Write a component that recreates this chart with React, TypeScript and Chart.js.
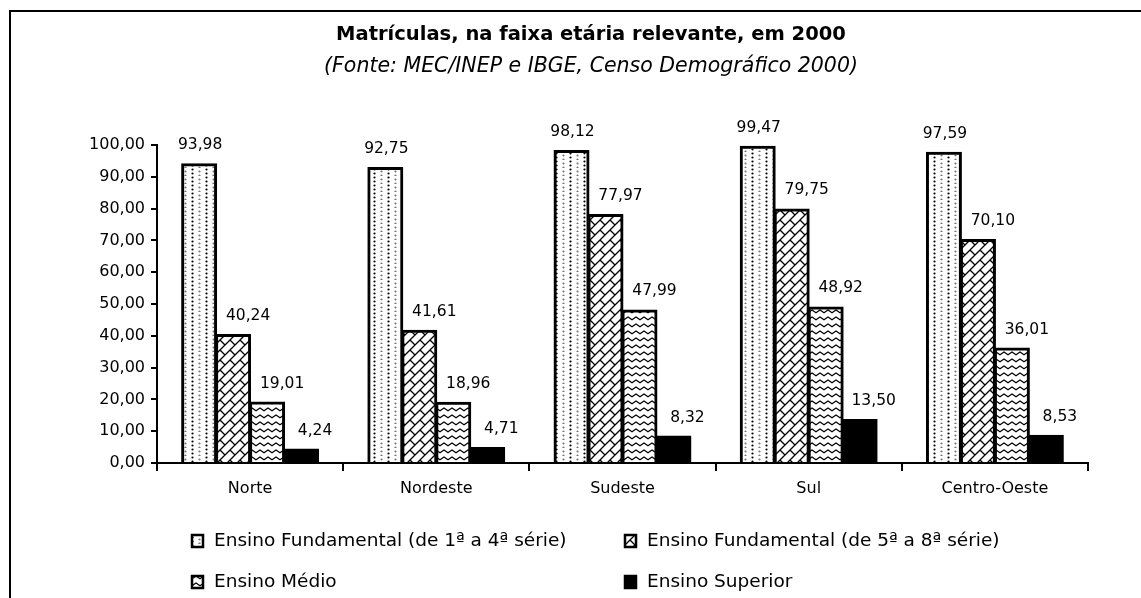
import React, { useEffect, useRef } from 'react';
import { Chart, registerables } from 'chart.js';

Chart.register(...registerables);

const categories = ['Norte', 'Nordeste', 'Sudeste', 'Sul', 'Centro-Oeste'];
const fundamental14 = [93.98, 92.75, 98.12, 99.47, 97.59];
const fundamental58 = [40.24, 41.61, 77.97, 79.75, 70.1];
const ensinoMedio = [19.01, 18.96, 47.99, 48.92, 36.01];
const ensinoSuperior = [4.24, 4.71, 8.32, 13.5, 8.53];
const seriesLabels = [
  'Ensino Fundamental (de 1ª a 4ª série)',
  'Ensino Fundamental (de 5ª a 8ª série)',
  'Ensino Médio',
  'Ensino Superior',
];
const titleText = 'Matrículas, na faixa etária relevante, em 2000';
const subtitleText = '(Fonte: MEC/INEP e IBGE, Censo Demográfico 2000)';
const yMin = 0;
const yMax = 100;
const yStep = 10;

const FONT = "'DejaVu Sans', sans-serif";

function fmt(v: number): string {
  return Number(v).toFixed(2).replace('.', ',');
}

function makePattern(kind: string): CanvasPattern | string {
  const c = document.createElement('canvas');
  if (kind === 'dots') {
    c.width = 14;
    c.height = 8;
    const ctx = c.getContext('2d')!;
    ctx.fillStyle = '#fff';
    ctx.fillRect(0, 0, c.width, c.height);
    const dot = (x: number, y: number, col: string) => {
      ctx.fillStyle = col;
      ctx.beginPath();
      ctx.arc(x, y, 1.1, 0, Math.PI * 2);
      ctx.fill();
    };
    dot(10.5, 1.5, '#000');
    dot(10.5, 5.5, '#000');
    dot(3.5, 3.5, '#777');
    dot(3.5, 7.5, '#777');
    return ctx.createPattern(c, 'repeat')!;
  }
  if (kind === 'zigzag') {
    const s = 10;
    c.width = s;
    c.height = s;
    const ctx = c.getContext('2d')!;
    ctx.fillStyle = '#fff';
    ctx.fillRect(0, 0, s, s);
    ctx.strokeStyle = '#000';
    ctx.lineWidth = 1.3;
    ctx.beginPath();
    ctx.moveTo(-1, s + 1);
    ctx.lineTo(s + 1, -1);
    ctx.moveTo(0, 0);
    ctx.lineTo(s / 2, s / 2);
    ctx.moveTo(-1, 1);
    ctx.lineTo(1, -1);
    ctx.moveTo(s - 1, s + 1);
    ctx.lineTo(s + 1, s - 1);
    ctx.stroke();
    return ctx.createPattern(c, 'repeat')!;
  }
  if (kind === 'wave') {
    c.width = 8;
    c.height = 7;
    const ctx = c.getContext('2d')!;
    ctx.fillStyle = '#fff';
    ctx.fillRect(0, 0, 8, 7);
    ctx.strokeStyle = '#000';
    ctx.lineWidth = 1.2;
    ctx.beginPath();
    ctx.moveTo(-0.5, 5);
    ctx.lineTo(4, 2);
    ctx.lineTo(8.5, 5);
    ctx.stroke();
    return ctx.createPattern(c, 'repeat')!;
  }
  return '#000';
}

export default function App() {
  const ref = useRef<HTMLCanvasElement | null>(null);

  useEffect(() => {
    const canvas = ref.current;
    if (!canvas) return;
    const fills = [makePattern('dots'), makePattern('zigzag'), makePattern('wave'), makePattern('solid')];
    const values = [fundamental14, fundamental58, ensinoMedio, ensinoSuperior];
    const labelDx = [1, 15, 15, 14];

    const decor = {
      id: 'decor',
      afterDatasetsDraw(chart: any) {
        const ctx = chart.ctx as CanvasRenderingContext2D;
        ctx.save();
        ctx.fillStyle = '#000';
        ctx.font = `15.5px ${FONT}`;
        ctx.textAlign = 'center';
        ctx.textBaseline = 'middle';
        chart.data.datasets.forEach((ds: any, di: number) => {
          const meta = chart.getDatasetMeta(di);
          meta.data.forEach((bar: any, i: number) => {
            const y = Math.max(bar.y - 19, 127);
            ctx.fillText(fmt(ds.data[i]), bar.x + labelDx[di], y);
          });
        });
        ctx.restore();
      },
      afterDraw(chart: any) {
        const ctx = chart.ctx as CanvasRenderingContext2D;
        ctx.save();
        // frame
        ctx.strokeStyle = '#000';
        ctx.lineWidth = 2;
        ctx.beginPath();
        ctx.moveTo(10, 598);
        ctx.lineTo(10, 11);
        ctx.lineTo(1141, 11);
        ctx.stroke();
        // titles
        ctx.fillStyle = '#000';
        ctx.textAlign = 'center';
        ctx.textBaseline = 'alphabetic';
        ctx.font = `bold 19.5px ${FONT}`;
        ctx.fillText(titleText, 591, 40);
        ctx.font = `italic 20.5px ${FONT}`;
        ctx.fillText(subtitleText, 591, 72);
        // legend
        const cols = [192, 625];
        const rows = [541, 582];
        ctx.font = `18.5px ${FONT}`;
        ctx.textAlign = 'left';
        ctx.textBaseline = 'middle';
        seriesLabels.forEach((lab, i) => {
          const x = cols[i % 2];
          const y = rows[Math.floor(i / 2)];
          ctx.fillStyle = '#fff';
          ctx.fillRect(x, y - 6, 11, 12);
          ctx.fillStyle = fills[i] as any;
          ctx.fillRect(x, y - 6, 11, 12);
          ctx.strokeStyle = '#000';
          ctx.lineWidth = 2.5;
          ctx.strokeRect(x, y - 6, 11, 12);
          ctx.fillStyle = '#000';
          ctx.fillText(lab, x + 22, y);
        });
        ctx.restore();
      },
    };

    const chart = new Chart(canvas, {
      type: 'bar',
      data: {
        labels: categories,
        datasets: values.map((v, i) => ({
          label: seriesLabels[i],
          data: v,
          backgroundColor: fills[i] as any,
          borderColor: '#000',
          borderWidth: 3,
          inflateAmount: 1,
          barPercentage: 1,
          categoryPercentage: 0.73,
        })),
      },
      options: {
        responsive: false,
        animation: false,
        devicePixelRatio: 1,
        layout: { padding: { left: 57, right: 53, top: 145, bottom: 95 } },
        plugins: {
          legend: { display: false },
          tooltip: { enabled: false },
          title: { display: false },
        },
        scales: {
          x: {
            grid: {
              display: true,
              drawOnChartArea: false,
              drawTicks: true,
              tickLength: 8,
              color: '#000',
              lineWidth: 2,
              offset: true,
            },
            border: { display: true, color: '#000', width: 2 },
            ticks: { color: '#000', font: { family: FONT, size: 16 }, padding: 8, maxRotation: 0 },
            afterFit: (s: any) => {
              s.height = 40;
            },
          },
          y: {
            min: yMin,
            max: yMax,
            grid: {
              display: true,
              drawOnChartArea: false,
              drawTicks: true,
              tickLength: 6,
              color: '#000',
              lineWidth: 2,
            },
            border: { display: true, color: '#000', width: 2 },
            ticks: {
              stepSize: yStep,
              color: '#000',
              font: { family: FONT, size: 16 },
              padding: 6,
              callback: (v: any) => fmt(Number(v)),
            },
            afterFit: (s: any) => {
              s.width = 100;
            },
          },
        },
      },
      plugins: [decor],
    });
    return () => chart.destroy();
  }, []);

  return (
    <div style={{ position: 'absolute', left: 0, top: 0, width: 1141, height: 598, background: '#fff' }}>
      <canvas ref={ref} width={1141} height={598} style={{ display: 'block', width: 1141, height: 598 }} />
    </div>
  );
}
